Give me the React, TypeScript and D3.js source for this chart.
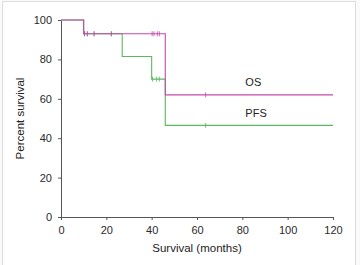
import * as d3 from 'd3';
import {useEffect, useRef} from "react";

// Kaplan-Meier steps: [time (months), percent surviving]
const osSteps: [number, number][] = [[0, 100], [10, 93], [46, 62], [120, 62]];
const pfsSteps: [number, number][] = [[0, 100], [10, 93], [27, 81.5], [40, 70], [46, 46.5], [120, 46.5]];

// censored observations (months)
const osCensored = [10.4, 11.6, 14.6, 22.2, 40.2, 41.0, 42.5, 43.4, 63.8];
const pfsCensored = [10.4, 11.6, 14.6, 22.2, 40.4, 42.2, 43.4, 63.8];

const xTicks = [0, 20, 40, 60, 80, 100, 120];
const yTicks = [0, 20, 40, 60, 80, 100];

export default function App() {
    const svgRef = useRef<SVGSVGElement>(null);

    const width = 360;
    const height = 265;
    const margin = {top: 20, right: 27, left: 61, bottom: 48};

    useEffect(() => {
        const svg = d3.select(svgRef.current)
            .attr('width', width)
            .attr('height', height);

        svg.selectAll("*").remove();

        // light panel frame
        svg.append("rect")
            .attr("x", 2.5).attr("y", 1.5)
            .attr("width", 353).attr("height", 275)
            .attr("fill", "#fff")
            .attr("stroke", "#dcdcdc");

        const x = d3.scaleLinear().domain([0, 120]).range([margin.left, width - margin.right]);
        const y = d3.scaleLinear().domain([0, 100]).range([height - margin.bottom, margin.top]);

        const font = "Liberation Sans, Arial, sans-serif";

        const xAxis = svg.append("g")
            .attr("transform", `translate(0,${height - margin.bottom})`)
            .call(d3.axisBottom(x).tickValues(xTicks).tickSizeOuter(0).tickSize(3).tickPadding(6));
        const yAxis = svg.append("g")
            .attr("transform", `translate(${margin.left},0)`)
            .call(d3.axisLeft(y).tickValues(yTicks).tickSizeOuter(0).tickSize(3).tickPadding(6));

        [xAxis, yAxis].forEach(a => {
            a.selectAll("path, line").attr("stroke", "#555");
            a.selectAll("text").attr("fill", "#2a2a2a").attr("font-size", 11).attr("font-family", font);
        });

        const step = d3.line<[number, number]>()
            .x(d => x(d[0]))
            .y(d => y(d[1]))
            .curve(d3.curveStepAfter);

        const survivalAt = (steps: [number, number][], t: number) => {
            let v = steps[0][1];
            steps.forEach(s => { if (s[0] <= t) v = s[1]; });
            return v;
        };

        const series = [
            {steps: pfsSteps, censored: pfsCensored, color: "#5cb860"},
            {steps: osSteps, censored: osCensored, color: "#c44aaa"},
        ];

        series.forEach(s => {
            svg.append("path")
                .datum(s.steps)
                .attr("d", step)
                .attr("fill", "none")
                .attr("stroke", s.color)
                .attr("stroke-width", 1.1);

            svg.selectAll(null)
                .data(s.censored)
                .enter().append("line")
                .attr("x1", d => x(d)).attr("x2", d => x(d))
                .attr("y1", d => y(survivalAt(s.steps, d)) - 2.5)
                .attr("y2", d => y(survivalAt(s.steps, d)) + 2.5)
                .attr("stroke", s.color)
                .attr("opacity", 0.8)
                .attr("stroke-width", 1);
        });

        // series labels
        svg.append("text")
            .attr("x", x(80) + 3).attr("y", y(62) - 9)
            .attr("font-family", font).attr("font-size", 11).attr("fill", "#222")
            .text("OS");
        svg.append("text")
            .attr("x", x(80) + 3).attr("y", y(46.5) - 8.5)
            .attr("font-family", font).attr("font-size", 11).attr("fill", "#222")
            .text("PFS");

        svg.append("text")
            .attr("x", 197)
            .attr("y", 252)
            .attr("text-anchor", "middle")
            .attr("font-family", font).attr("font-size", 11.5).attr("fill", "#222")
            .text("Survival (months)");

        svg.append("text")
            .attr("transform", `translate(24,${(margin.top + height - margin.bottom) / 2}) rotate(-90)`)
            .attr("text-anchor", "middle")
            .attr("font-family", font).attr("font-size", 11.5).attr("fill", "#222")
            .text("Percent survival");

        return () => {};
    }, []);

    return (<div style={{position: "absolute", left: 0, top: 0, background: "#fafafa"}}>
        <svg ref={svgRef} style={{display: "block"}}></svg>
    </div>);
}
